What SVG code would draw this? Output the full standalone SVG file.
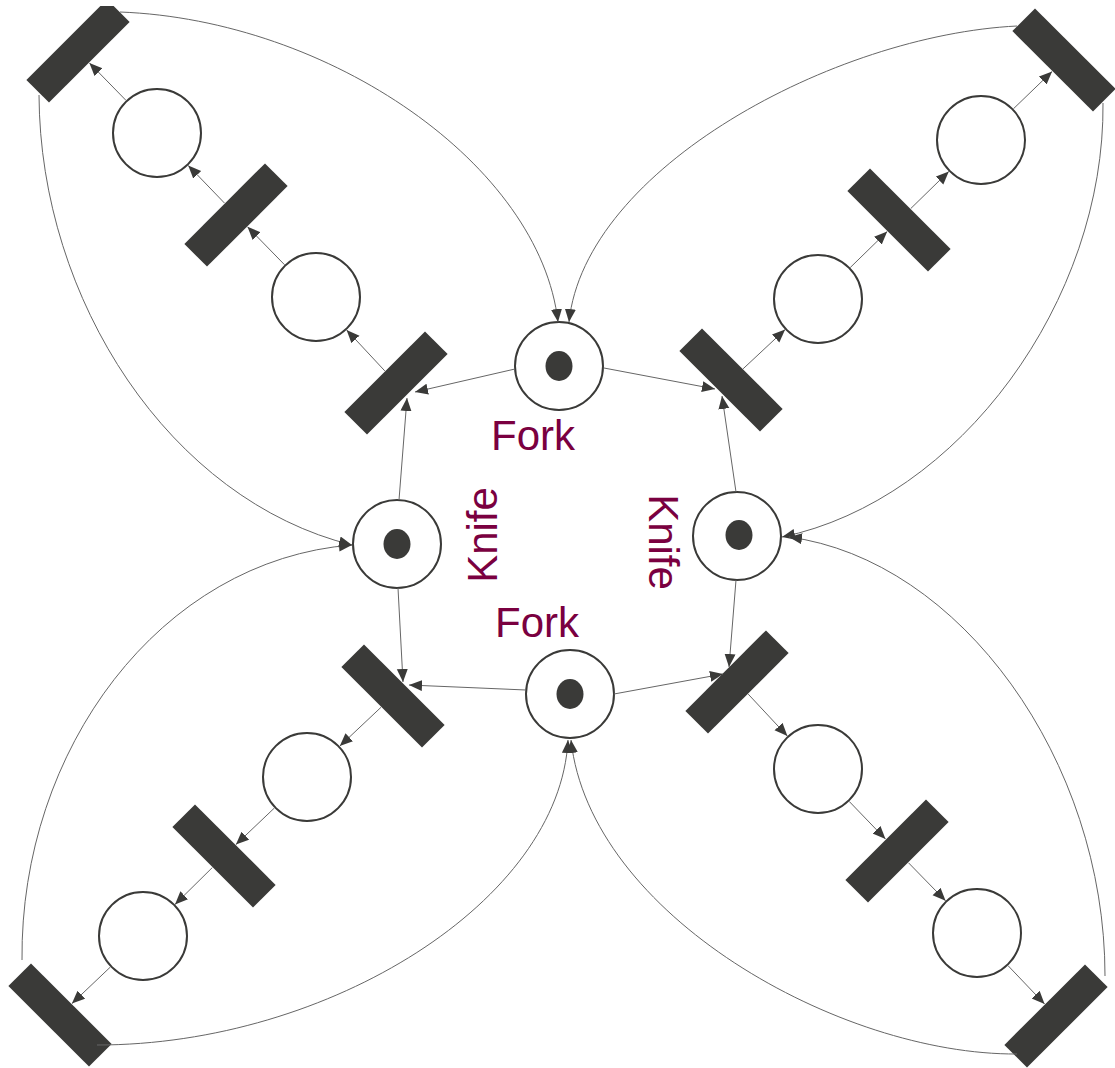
<svg xmlns="http://www.w3.org/2000/svg" width="1115" height="1068" viewBox="0 0 1115 1068">
<defs>
<style>
.place{fill:#ffffff;stroke:#3a3a38;stroke-width:2}
.token{fill:#3a3a38}
.trans{fill:#3a3a38}
.arc{fill:none;stroke:#666666;stroke-width:1;marker-end:url(#ah)}
.lbl{font-family:"Liberation Sans",Arial,sans-serif;font-size:42px;fill:#7a0040;text-anchor:middle}
</style>
<marker id="ah" markerUnits="userSpaceOnUse" markerWidth="14" markerHeight="12" refX="13" refY="5.5" orient="auto">
<path d="M0,0 L13,5.5 L0,11 z" fill="#3a3a38"/>
</marker>
<clipPath id="topclip"><rect x="0" y="6" width="1115" height="1062"/></clipPath>
</defs>
<rect width="1115" height="1068" fill="#ffffff"/>

<!-- places -->
<g id="p1"><circle class="place" cx="157" cy="133" r="44"/></g>
<g id="p2"><circle class="place" cx="316" cy="297" r="44"/></g>
<g id="p3"><circle class="place" cx="818" cy="299" r="44"/></g>
<g id="p4"><circle class="place" cx="981" cy="140" r="44"/></g>
<g id="p5"><circle class="place" cx="307" cy="777" r="44"/></g>
<g id="p6"><circle class="place" cx="143" cy="936" r="44"/></g>
<g id="p7"><circle class="place" cx="818" cy="769" r="44"/></g>
<g id="p8"><circle class="place" cx="977" cy="933" r="44"/></g>

<g id="fork-top"><circle class="place" cx="559" cy="366" r="44"/><ellipse class="token" cx="559" cy="366" rx="13.5" ry="15"/><text class="lbl" x="533" y="450">Fork</text></g>
<g id="fork-bottom"><circle class="place" cx="570" cy="694" r="44"/><ellipse class="token" cx="570" cy="694" rx="13.5" ry="15"/><text class="lbl" x="537" y="637">Fork</text></g>
<g id="knife-left"><circle class="place" cx="397" cy="544" r="44"/><ellipse class="token" cx="397" cy="544" rx="13.5" ry="15"/><text class="lbl" transform="translate(497,535) rotate(-90)">Knife</text></g>
<g id="knife-right"><circle class="place" cx="737" cy="536" r="44"/><ellipse class="token" cx="739" cy="535" rx="13.5" ry="15"/><text class="lbl" transform="translate(649,542) rotate(90)">Knife</text></g>

<!-- transitions -->
<g id="t1" clip-path="url(#topclip)"><rect class="trans" x="-57" y="-16" width="114" height="32" transform="translate(78,51) rotate(-45)"/></g>
<g id="t2"><rect class="trans" x="-57" y="-16" width="114" height="32" transform="translate(236,215) rotate(-45)"/></g>
<g id="t3"><rect class="trans" x="-57" y="-16" width="114" height="32" transform="translate(396,383) rotate(-45)"/></g>
<g id="t4"><rect class="trans" x="-57" y="-16" width="114" height="32" transform="translate(1064,60) rotate(45)"/></g>
<g id="t5"><rect class="trans" x="-57" y="-16" width="114" height="32" transform="translate(899,220) rotate(45)"/></g>
<g id="t6"><rect class="trans" x="-57" y="-16" width="114" height="32" transform="translate(731,380) rotate(45)"/></g>
<g id="t7"><rect class="trans" x="-57" y="-16" width="114" height="32" transform="translate(393,696) rotate(45)"/></g>
<g id="t8"><rect class="trans" x="-57" y="-16" width="114" height="32" transform="translate(224,856) rotate(45)"/></g>
<g id="t9"><rect class="trans" x="-57" y="-16" width="114" height="32" transform="translate(60,1015) rotate(45)"/></g>
<g id="t10"><rect class="trans" x="-57" y="-16" width="114" height="32" transform="translate(737,682) rotate(-45)"/></g>
<g id="t11"><rect class="trans" x="-57" y="-16" width="114" height="32" transform="translate(897,851) rotate(-45)"/></g>
<g id="t12"><rect class="trans" x="-57" y="-16" width="114" height="32" transform="translate(1056,1016) rotate(-45)"/></g>

<!-- connectors -->
<g id="connectors">
<path class="arc" d="M384.8,370.9 L346.6,329.9"/>
<path class="arc" d="M284.6,264.8 L247.5,226.8"/>
<path class="arc" d="M224.5,203.1 L188.2,165.4"/>
<path class="arc" d="M126,100.4 L89.4,62.9"/>

<path class="arc" d="M743.1,368.8 L785.1,329.6"/>
<path class="arc" d="M850.2,267.6 L887.2,231.5"/>
<path class="arc" d="M910.8,208.5 L948.8,171.4"/>
<path class="arc" d="M1013.4,108.8 L1052.1,71.5"/>

<path class="arc" d="M381,707.3 L339.8,746.1"/>
<path class="arc" d="M274.4,808 L235.9,844.6"/>
<path class="arc" d="M212.3,867.6 L175,904.4"/>
<path class="arc" d="M110.4,967 L71.9,1003.6"/>

<path class="arc" d="M748.2,694.1 L787.4,736.1"/>
<path class="arc" d="M849.2,801.4 L885.5,839.1"/>
<path class="arc" d="M908.5,862.8 L945.6,900.8"/>
<path class="arc" d="M1008,965.6 L1044.6,1004"/>

<path class="arc" d="M515,369 L415,392"/>
<path class="arc" d="M399,500 L407,398"/>
<path class="arc" d="M604,368 L715,389"/>
<path class="arc" d="M736,492 L722,396"/>
<path class="arc" d="M736,580 L729,667"/>
<path class="arc" d="M614,694 L723,674"/>
<path class="arc" d="M398,588 L403,682"/>
<path class="arc" d="M526,690 L409,685"/>

<path class="arc" d="M120,12 C330,20 540,165 558,322"/>
<path class="arc" d="M1017,26 C835,35 585,168 569,322"/>
<path class="arc" d="M39,95 C40,300 170,500 352,545"/>
<path class="arc" d="M1103,103 C1105,300 960,500 782,537"/>
<path class="arc" d="M22,960 C20,750 160,560 352,545"/>
<path class="arc" d="M97,1045 C330,1045 560,900 568,740"/>
<path class="arc" d="M1105,976 C1105,760 960,560 789,537"/>
<path class="arc" d="M1017,1054 C840,1055 590,915 571,740"/>
</g>
</svg>
